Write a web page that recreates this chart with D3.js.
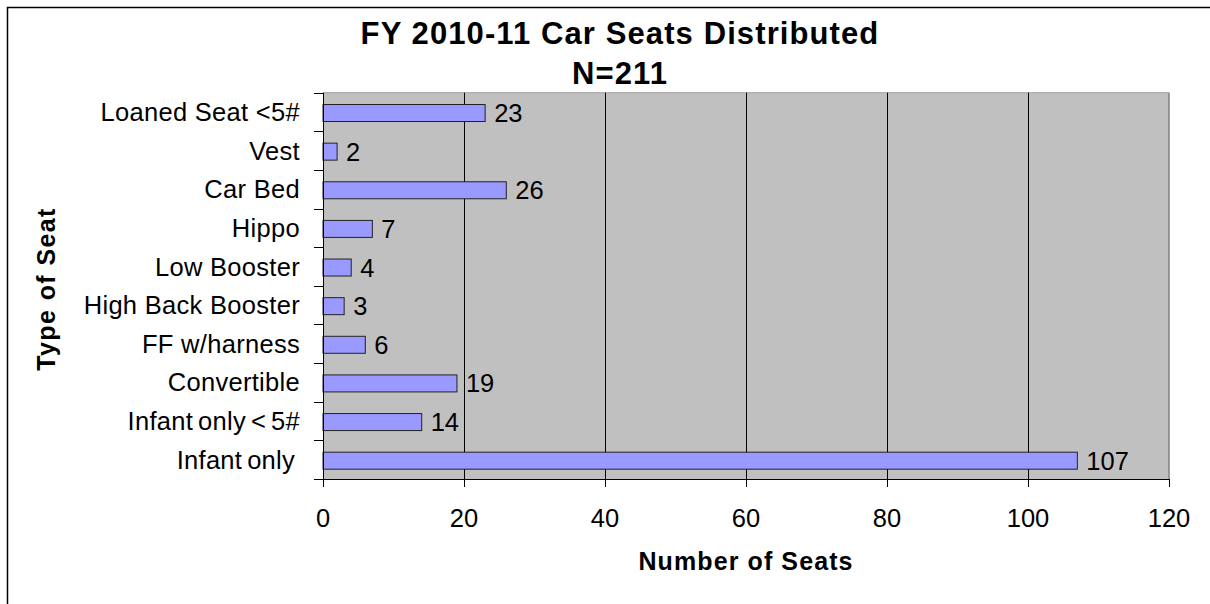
<!DOCTYPE html>
<html>
<head>
<meta charset="utf-8">
<script src="https://cdn.jsdelivr.net/npm/d3@7"></script>
<style>
  body { margin: 0; background: #fff; }
  svg text { font-family: "Liberation Sans", Arial, sans-serif; fill: #000; }
</style>
</head>
<body>
<div id="chart"></div>
<script>
var categories = ["Loaned Seat <5#", "Vest", "Car Bed", "Hippo", "Low Booster",
    "High Back Booster", "FF w/harness", "Convertible", "Infant only < 5#", "Infant only "];
var seats = [23, 2, 26, 7, 4, 3, 6, 19, 14, 107];
var xTicks = [0, 20, 40, 60, 80, 100, 120];

var W = 1210, H = 604;
var pLeft = 323, pRight = 1169, pTop = 92.7, pBottom = 479;

var svg = d3.select("#chart").append("svg")
    .attr("width", W).attr("height", H);

// outer chart frame (runs off the picture at right/bottom)
svg.append("rect")
    .attr("x", 7.5).attr("y", 7.5)
    .attr("width", W + 20).attr("height", H + 20)
    .attr("fill", "#fff").attr("stroke", "#000").attr("stroke-width", 1.5);

var x = d3.scaleLinear().domain([0, 120]).range([pLeft, pRight]);
var y = d3.scaleBand().domain(categories).range([pTop, pBottom]);

// plot background
svg.append("rect")
    .attr("x", pLeft).attr("y", pTop)
    .attr("width", pRight - pLeft).attr("height", pBottom - pTop)
    .attr("fill", "#c0c0c0");

// top and right border of plot
svg.append("line").attr("x1", pLeft).attr("x2", pRight).attr("y1", pTop).attr("y2", pTop)
    .attr("stroke", "#a0a0a0");
svg.append("line").attr("x1", pRight).attr("x2", pRight).attr("y1", pTop).attr("y2", pBottom)
    .attr("stroke", "#808080").attr("stroke-width", 1.5);

// gridlines
svg.append("g").selectAll("line")
    .data(xTicks.slice(1, -1))
    .enter().append("line")
    .attr("x1", function(d) { return Math.round(x(d)) + 0.5; })
    .attr("x2", function(d) { return Math.round(x(d)) + 0.5; })
    .attr("y1", pTop).attr("y2", pBottom)
    .attr("stroke", "#000").attr("stroke-width", 1);

// bars
var barH = y.step() * 0.44;
svg.append("g").selectAll("rect")
    .data(seats)
    .enter().append("rect")
    .attr("x", x(0))
    .attr("y", function(d, i) { return y(categories[i]) + y.step() / 2 - barH / 2 + 1; })
    .attr("width", function(d) { return x(d) - x(0); })
    .attr("height", barH)
    .attr("fill", "#9999ff")
    .attr("stroke", "#222").attr("stroke-width", 1);

// value labels
svg.append("g").selectAll("text")
    .data(seats)
    .enter().append("text")
    .attr("x", function(d) { return x(d) + 9; })
    .attr("y", function(d, i) { return y(categories[i]) + y.step() / 2 + 10; })
    .attr("font-size", 25.5)
    .text(function(d) { return d; });

// y axis
var yAxis = svg.append("g")
    .attr("transform", "translate(" + pLeft + ",0)");
yAxis.append("line").attr("x1", 0.5).attr("x2", 0.5).attr("y1", pTop).attr("y2", pBottom + 8)
    .attr("stroke", "#000");
yAxis.selectAll("line.tk")
    .data(d3.range(categories.length + 1))
    .enter().append("line").attr("class", "tk")
    .attr("x1", -9).attr("x2", 0)
    .attr("y1", function(i) { return Math.round(pTop + i * y.step()) + 0.5; })
    .attr("y2", function(i) { return Math.round(pTop + i * y.step()) + 0.5; })
    .attr("stroke", "#000");
yAxis.selectAll("text")
    .data(categories)
    .enter().append("text")
    .attr("x", -23)
    .attr("y", function(d) { return y(d) + y.step() / 2 + 9; })
    .attr("text-anchor", "end")
    .attr("font-size", 25.5)
    .attr("letter-spacing", 0.3)
    .style("white-space", "pre")
    .attr("word-spacing", function(d) { return d.indexOf("Infant") === 0 ? -2.5 : 0; })
    .text(function(d) { return d; });

// x axis
var xAxis = svg.append("g");
xAxis.append("line").attr("x1", pLeft - 9).attr("x2", pRight).attr("y1", pBottom + 0.5).attr("y2", pBottom + 0.5)
    .attr("stroke", "#000");
xAxis.selectAll("line.tk")
    .data(xTicks)
    .enter().append("line").attr("class", "tk")
    .attr("x1", function(d) { return Math.round(x(d)) + 0.5; })
    .attr("x2", function(d) { return Math.round(x(d)) + 0.5; })
    .attr("y1", pBottom).attr("y2", pBottom + 8)
    .attr("stroke", "#000");
xAxis.selectAll("text")
    .data(xTicks)
    .enter().append("text")
    .attr("x", function(d) { return x(d); })
    .attr("y", 527)
    .attr("text-anchor", "middle")
    .attr("font-size", 25.5)
    .text(function(d) { return d; });

// titles
svg.append("text").attr("x", 620).attr("y", 44)
    .attr("text-anchor", "middle").attr("font-size", 31).attr("font-weight", "bold")
    .attr("letter-spacing", 1.1)
    .text("FY 2010-11 Car Seats Distributed");
svg.append("text").attr("x", 620).attr("y", 84)
    .attr("text-anchor", "middle").attr("font-size", 31).attr("font-weight", "bold")
    .attr("letter-spacing", 1.1)
    .text("N=211");
svg.append("text").attr("x", 746).attr("y", 570)
    .attr("text-anchor", "middle").attr("font-size", 25).attr("font-weight", "bold")
    .attr("letter-spacing", 1.1)
    .text("Number of Seats");
svg.append("text")
    .attr("transform", "translate(55,289) rotate(-90)")
    .attr("text-anchor", "middle").attr("font-size", 25).attr("font-weight", "bold")
    .attr("letter-spacing", 1.4)
    .text("Type of Seat");
</script>
</body>
</html>
